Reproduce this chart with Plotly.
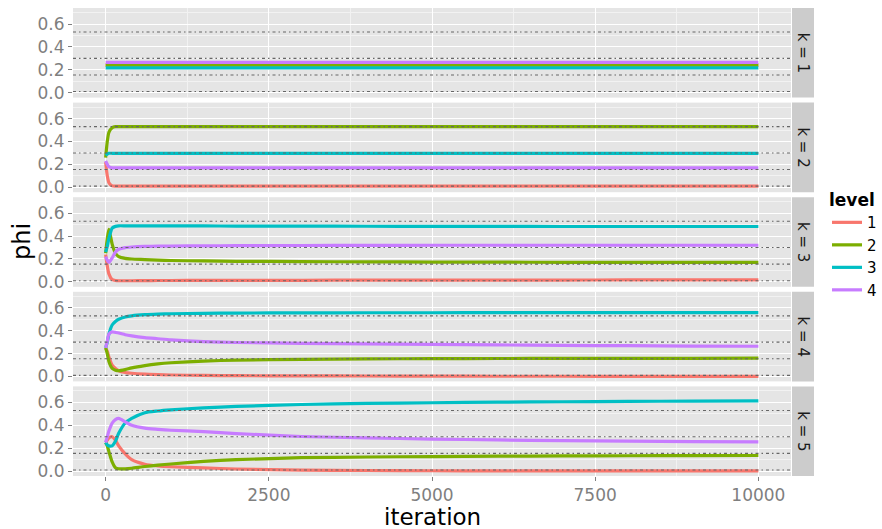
import plotly.graph_objects as go
from plotly.subplots import make_subplots

# ---------------- data ----------------
iteration = [0, 25, 50, 100, 150, 200, 300, 400, 600, 800, 1000, 1500, 2000,
             3000, 4000, 5000, 6000, 7000, 8000, 9000, 10000]
levels = ["1", "2", "3", "4"]
k_labels = ["k = 1", "k = 2", "k = 3", "k = 4", "k = 5"]
true_phi = [0.01, 0.155, 0.30, 0.53]
y_ticks = [0.0, 0.2, 0.4, 0.6]
y_tick_labels = ["0.0", "0.2", "0.4", "0.6"]
x_ticks = [0, 2500, 5000, 7500, 10000]
x_tick_labels = ["0", "2500", "5000", "7500", "10000"]

# k = 1
k1_l1 = [0.24, 0.24, 0.24, 0.24, 0.24, 0.24, 0.24, 0.24, 0.24, 0.24, 0.24, 0.24, 0.24, 0.24, 0.24, 0.24, 0.24, 0.24, 0.24, 0.24, 0.24]
k1_l2 = [0.24, 0.24, 0.24, 0.24, 0.24, 0.24, 0.24, 0.24, 0.24, 0.24, 0.24, 0.24, 0.24, 0.24, 0.24, 0.24, 0.24, 0.24, 0.24, 0.24, 0.24]
k1_l3 = [0.217, 0.217, 0.217, 0.217, 0.217, 0.217, 0.217, 0.217, 0.217, 0.217, 0.217, 0.217, 0.217, 0.217, 0.217, 0.217, 0.217, 0.217, 0.217, 0.217, 0.217]
k1_l4 = [0.265, 0.265, 0.265, 0.265, 0.265, 0.265, 0.265, 0.265, 0.265, 0.265, 0.265, 0.265, 0.265, 0.265, 0.265, 0.265, 0.265, 0.265, 0.265, 0.265, 0.265]

# k = 2
k2_l1 = [0.22, 0.10, 0.04, 0.012, 0.01, 0.01, 0.01, 0.01, 0.01, 0.01, 0.01, 0.01, 0.01, 0.01, 0.01, 0.01, 0.01, 0.01, 0.01, 0.01, 0.01]
k2_l2 = [0.26, 0.40, 0.48, 0.52, 0.53, 0.53, 0.53, 0.53, 0.53, 0.53, 0.53, 0.53, 0.53, 0.53, 0.53, 0.53, 0.53, 0.53, 0.53, 0.53, 0.53]
k2_l3 = [0.28, 0.29, 0.297, 0.297, 0.297, 0.297, 0.297, 0.297, 0.297, 0.297, 0.297, 0.297, 0.297, 0.297, 0.297, 0.297, 0.297, 0.297, 0.297, 0.297, 0.297]
k2_l4 = [0.23, 0.20, 0.18, 0.17, 0.17, 0.17, 0.17, 0.17, 0.17, 0.17, 0.17, 0.17, 0.17, 0.17, 0.17, 0.17, 0.17, 0.17, 0.17, 0.17, 0.17]

# k = 3
k3_l1 = [0.24, 0.14, 0.07, 0.02, 0.012, 0.01, 0.01, 0.01, 0.011, 0.012, 0.012, 0.013, 0.013, 0.014, 0.015, 0.015, 0.016, 0.016, 0.017, 0.017, 0.017]
k3_l2 = [0.25, 0.38, 0.46, 0.33, 0.25, 0.22, 0.205, 0.20, 0.195, 0.19, 0.187, 0.183, 0.18, 0.177, 0.175, 0.173, 0.172, 0.171, 0.17, 0.17, 0.17]
k3_l3 = [0.26, 0.31, 0.38, 0.47, 0.485, 0.49, 0.49, 0.49, 0.49, 0.49, 0.49, 0.489, 0.488, 0.487, 0.486, 0.485, 0.485, 0.484, 0.484, 0.484, 0.484]
k3_l4 = [0.22, 0.19, 0.17, 0.21, 0.26, 0.285, 0.30, 0.305, 0.31, 0.312, 0.313, 0.315, 0.316, 0.318, 0.319, 0.32, 0.32, 0.32, 0.32, 0.32, 0.32]

# k = 4
k4_l1 = [0.25, 0.22, 0.17, 0.10, 0.07, 0.05, 0.035, 0.028, 0.02, 0.016, 0.013, 0.009, 0.007, 0.005, 0.004, 0.003, 0.002, 0.002, 0.001, 0.001, 0.001]
k4_l2 = [0.25, 0.20, 0.13, 0.07, 0.055, 0.05, 0.06, 0.075, 0.095, 0.11, 0.12, 0.135, 0.143, 0.15, 0.154, 0.156, 0.157, 0.158, 0.159, 0.159, 0.16]
k4_l3 = [0.25, 0.30, 0.37, 0.45, 0.48, 0.50, 0.52, 0.53, 0.54, 0.545, 0.548, 0.552, 0.554, 0.556, 0.557, 0.557, 0.558, 0.558, 0.558, 0.558, 0.558]
k4_l4 = [0.25, 0.31, 0.37, 0.39, 0.385, 0.38, 0.365, 0.355, 0.34, 0.33, 0.32, 0.305, 0.297, 0.29, 0.285, 0.28, 0.276, 0.272, 0.269, 0.266, 0.264]

# k = 5
k5_l1 = [0.25, 0.27, 0.29, 0.30, 0.27, 0.22, 0.15, 0.10, 0.06, 0.045, 0.038, 0.028, 0.018, 0.009, 0.005, 0.003, 0.002, 0.002, 0.001, 0.001, 0.001]
k5_l2 = [0.25, 0.22, 0.17, 0.08, 0.03, 0.02, 0.02, 0.025, 0.04, 0.052, 0.062, 0.085, 0.10, 0.117, 0.123, 0.127, 0.13, 0.132, 0.134, 0.135, 0.136]
k5_l3 = [0.25, 0.23, 0.22, 0.22, 0.26, 0.33, 0.42, 0.46, 0.51, 0.525, 0.535, 0.553, 0.565, 0.582, 0.591, 0.597, 0.602, 0.606, 0.609, 0.611, 0.613]
k5_l4 = [0.25, 0.30, 0.35, 0.42, 0.45, 0.46, 0.43, 0.40, 0.375, 0.365, 0.357, 0.345, 0.328, 0.302, 0.29, 0.28, 0.272, 0.266, 0.262, 0.258, 0.255]

series = [
    [k1_l1, k1_l2, k1_l3, k1_l4],
    [k2_l1, k2_l2, k2_l3, k2_l4],
    [k3_l1, k3_l2, k3_l3, k3_l4],
    [k4_l1, k4_l2, k4_l3, k4_l4],
    [k5_l1, k5_l2, k5_l3, k5_l4],
]

# ---------------- styling ----------------
colors = ["#F8766D", "#7CAE00", "#00BFC4", "#C77CFF"]
FONT = "DejaVu Sans, Liberation Sans, Arial, sans-serif"
PANEL_BG = "#E5E5E5"
STRIP_BG = "#CCCCCC"
TICK_GREY = "#7F7F7F"

W, H = 882, 529
ML, MR, MT, MB = 73, 91, 8, 53
plot_w = W - ML - MR
plot_h = H - MT - MB

n = len(k_labels)
fig = make_subplots(rows=n, cols=1, shared_xaxes=True,
                    vertical_spacing=5.0 / plot_h)

for r in range(n):
    for j, lev in enumerate(levels):
        fig.add_trace(
            go.Scatter(
                x=iteration, y=series[r][j], mode="lines",
                line=dict(color=colors[j], width=3.2, shape="spline", smoothing=0.6),
                name=lev, showlegend=(r == 0),
            ),
            row=r + 1, col=1,
        )
    for v in true_phi:
        fig.add_hline(y=v, row=r + 1, col=1,
                      line=dict(color="#666666", width=1.1, dash="3px,3px,1.5px,3px"),
                      layer="above")

for r in range(n):
    xa = "xaxis" if r == 0 else f"xaxis{r + 1}"
    ya = "yaxis" if r == 0 else f"yaxis{r + 1}"
    last = (r == n - 1)
    fig.layout[xa].update(
        range=[-500, 10500], showgrid=True, gridcolor="white", gridwidth=1.3,
        tickvals=x_ticks, ticktext=x_tick_labels, zeroline=False, showline=False,
        ticks="outside" if last else "", ticklen=4, tickcolor=TICK_GREY,
        showticklabels=last, automargin=False,
        tickfont=dict(family=FONT, size=17, color=TICK_GREY),
        minor=dict(tickvals=[1250, 3750, 6250, 8750], showgrid=True,
                   gridcolor="#F2F2F2", gridwidth=0.6),
    )
    fig.layout[ya].update(
        range=[-0.043, 0.74], showgrid=True, gridcolor="white", gridwidth=1.3,
        tickvals=y_ticks, ticktext=y_tick_labels, zeroline=False, showline=False,
        ticks="outside", ticklen=4, tickcolor=TICK_GREY, automargin=False,
        tickfont=dict(family=FONT, size=17, color=TICK_GREY),
        minor=dict(tickvals=[0.1, 0.3, 0.5, 0.7], showgrid=True,
                   gridcolor="#F2F2F2", gridwidth=0.6),
    )
    dom = fig.layout[ya].domain
    # strip on the right
    fig.add_shape(type="rect", xref="paper", yref="paper",
                  x0=1.0 + 1.0 / plot_w, x1=1.0 + 23.0 / plot_w,
                  y0=dom[0], y1=dom[1], fillcolor=STRIP_BG, line=dict(width=0),
                  layer="below")
    fig.add_annotation(text=k_labels[r], xref="paper", yref="paper",
                       x=1.0 + 12.0 / plot_w, y=(dom[0] + dom[1]) / 2,
                       xanchor="center", yanchor="middle",
                       showarrow=False, textangle=90,
                       font=dict(family=FONT, size=15, color="#1A1A1A"))

# axis titles
fig.add_annotation(text="phi", xref="paper", yref="paper",
                   x=(22 - ML) / plot_w, y=0.5, textangle=-90, showarrow=False,
                   xanchor="center", yanchor="middle",
                   font=dict(family=FONT, size=24, color="black"))
fig.add_annotation(text="iteration", xref="paper", yref="paper",
                   x=0.5, y=-(517 - (H - MB)) / plot_h, showarrow=False,
                   xanchor="center", yanchor="middle",
                   font=dict(family=FONT, size=23, color="black"))

fig.update_layout(
    width=W, height=H,
    margin=dict(l=ML, r=MR, t=MT, b=MB, autoexpand=False),
    paper_bgcolor="white", plot_bgcolor=PANEL_BG,
    font=dict(family=FONT),
    legend=dict(
        title=dict(text="<b>level</b>", font=dict(family=FONT, size=17, color="black")),
        font=dict(family=FONT, size=15, color="black"),
        x=(827 - ML) / plot_w, xanchor="left",
        y=1 - (184 - MT) / plot_h, yanchor="top",
        bgcolor="rgba(0,0,0,0)", itemwidth=30, tracegroupgap=0,
    ),
)

fig.write_html("out.html", config={"displayModeBar": False},
               post_script="document.body.style.margin='0';document.body.style.overflow='hidden';")
